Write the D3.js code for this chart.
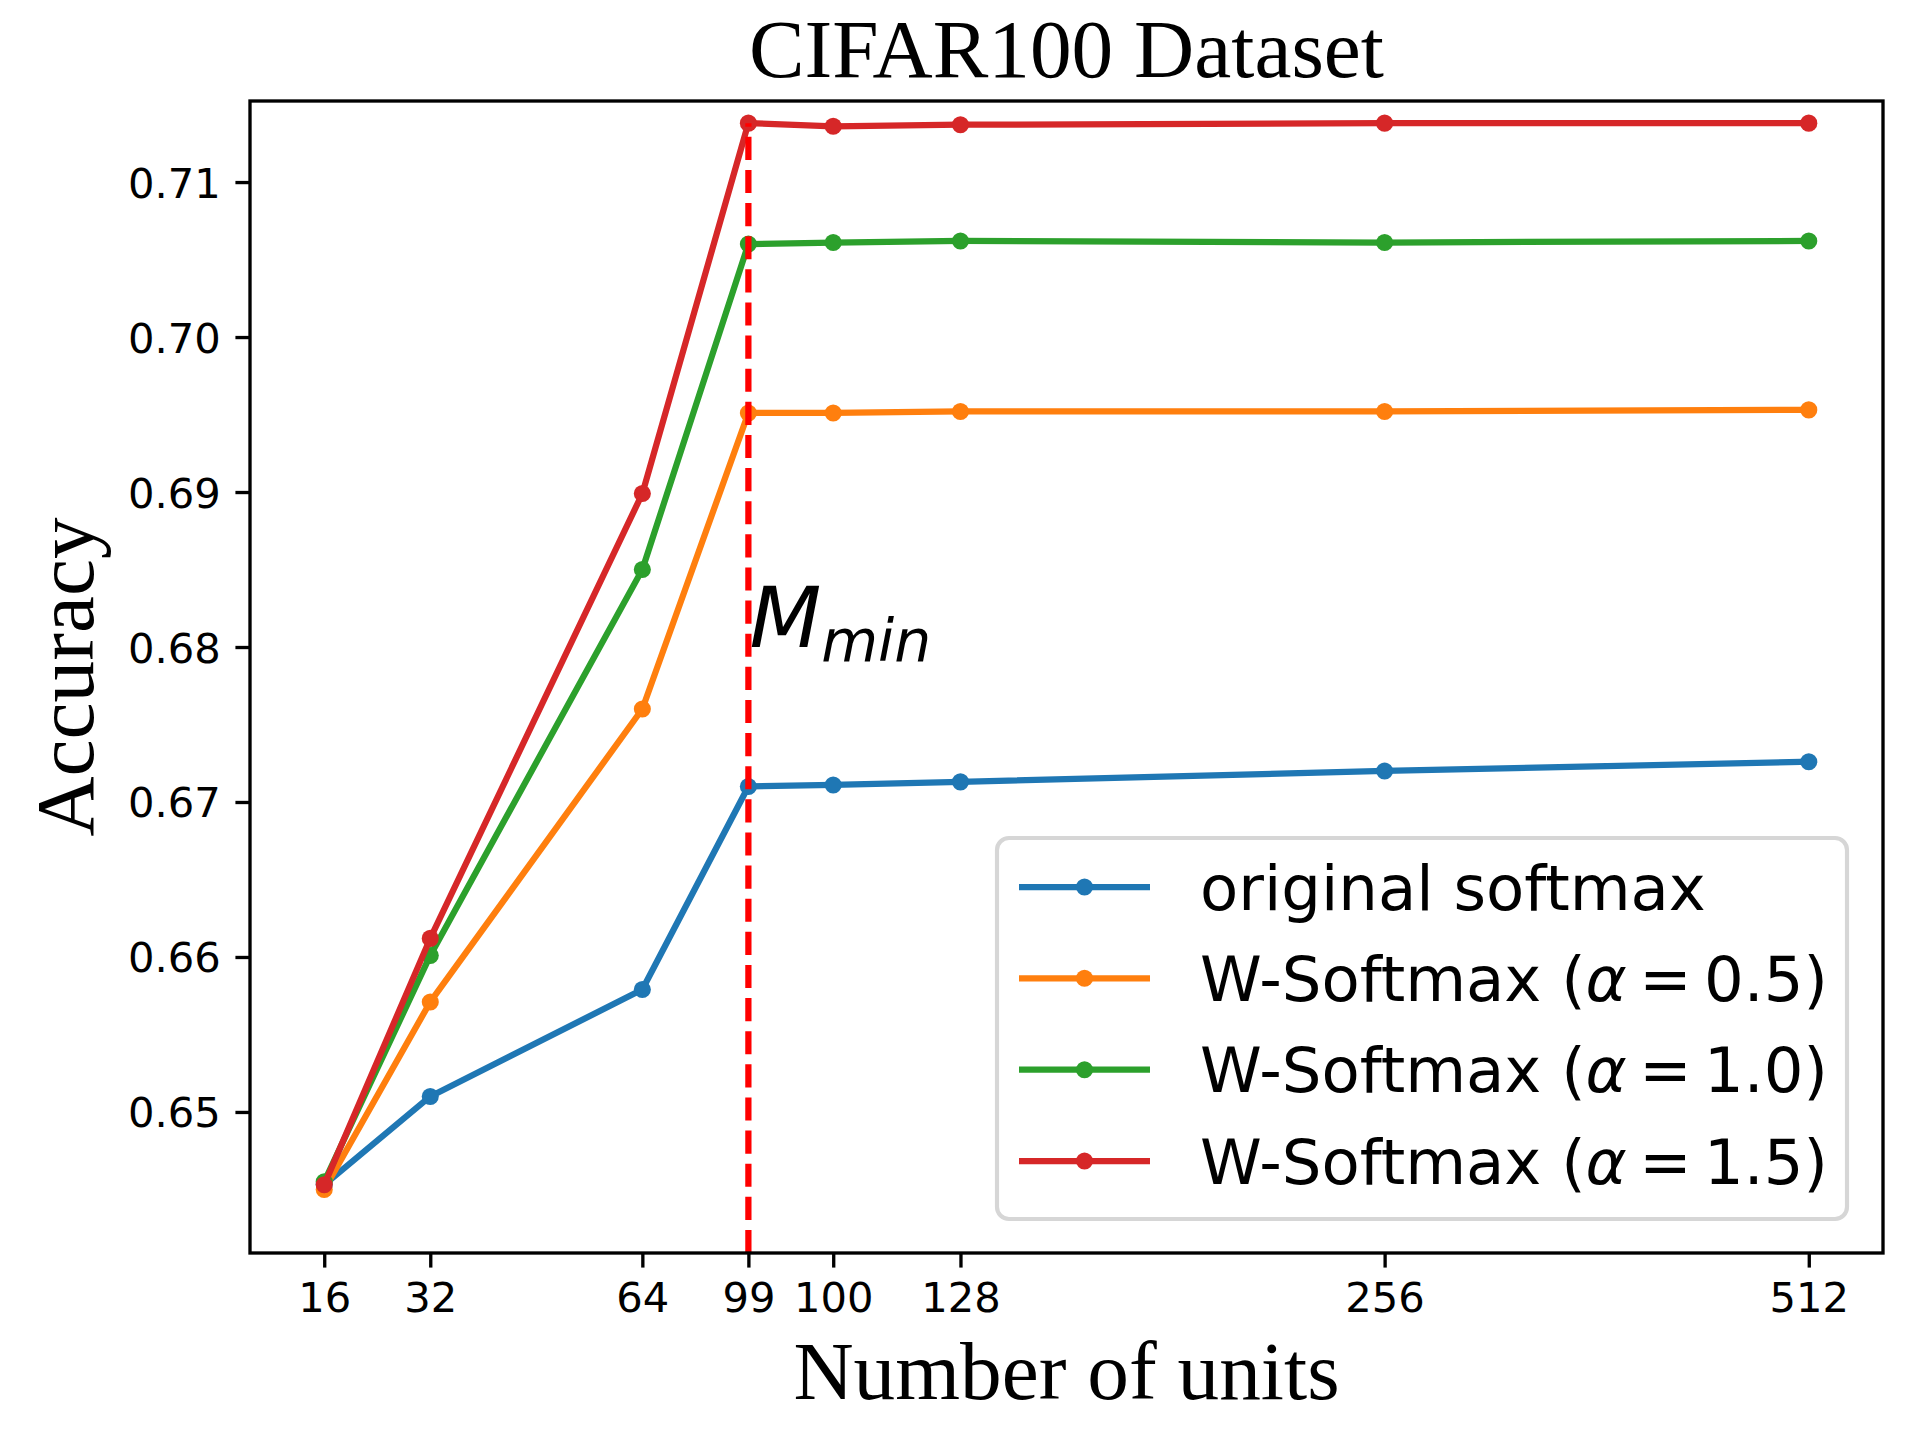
<!DOCTYPE html>
<html>
<head>
<meta charset="utf-8">
<script src="https://cdn.jsdelivr.net/npm/d3@7"></script>
<style>
  body { margin: 0; background: #fff; }
  svg { display: block; }
</style>
</head>
<body>
<div id="graphicContainer"></div>
<script>
// categories on the x axis and where matplotlib put them
var unitLabels = ["16", "32", "64", "99", "100", "128", "256", "512"]
var unitPos = [0, 1, 3, 4, 4.8, 6, 10, 14]

var originalSoftmax = [0.6453, 0.6510, 0.6579, 0.6710, 0.6711, 0.6713, 0.6720, 0.6726]
var wSoftmax05 = [0.6450, 0.6571, 0.6760, 0.6951, 0.6951, 0.6952, 0.6952, 0.6953]
var wSoftmax10 = [0.6455, 0.6601, 0.6850, 0.7060, 0.7061, 0.7062, 0.7061, 0.7062]
var wSoftmax15 = [0.6453, 0.6612, 0.6899, 0.7138, 0.7136, 0.7137, 0.7138, 0.7138]

var yTicks = [0.65, 0.66, 0.67, 0.68, 0.69, 0.70, 0.71]
var mMin = 99
var mMinLabelY = 0.68

var series = [
	{name: "original softmax", alpha: null, values: originalSoftmax, color: "#1f77b4"},
	{name: "W-Softmax", alpha: "0.5", values: wSoftmax05, color: "#ff7f0e"},
	{name: "W-Softmax", alpha: "1.0", values: wSoftmax10, color: "#2ca02c"},
	{name: "W-Softmax", alpha: "1.5", values: wSoftmax15, color: "#d62728"}
]

var width = 1920
var height = 1440
var margin = {top: 101, right: 37, bottom: 187, left: 250}
var pt = 300 / 72

var sans = "'DejaVu Sans', sans-serif"
var serif = "'Liberation Serif', 'Times New Roman', serif"

var svg = d3.select("#graphicContainer").append("svg")
	.attr("width", width)
	.attr("height", height)

var x = d3.scaleLinear()
	.domain([-0.7, 14.7])
	.range([margin.left, width - margin.right])

var y = d3.scaleLinear()
	.domain([0.6409, 0.71523])
	.range([height - margin.bottom, margin.top])

var xAxis = d3.axisBottom(x)
	.tickValues(unitPos)
	.tickFormat((d, i) => unitLabels[i])
	.tickSizeInner(3.5 * pt)
	.tickSizeOuter(0)
	.tickPadding(3.5 * pt)

var yAxis = d3.axisLeft(y)
	.tickValues(yTicks)
	.tickFormat(d3.format(".2f"))
	.tickSizeInner(3.5 * pt)
	.tickSizeOuter(0)
	.tickPadding(3.5 * pt)

var gx = svg.append("g")
	.attr("transform", `translate(0,${height - margin.bottom})`)
	.call(xAxis)

var gy = svg.append("g")
	.attr("transform", `translate(${margin.left},0)`)
	.call(yAxis)

;[gx, gy].forEach(g => {
	g.select(".domain").remove()
	g.selectAll(".tick line").attr("stroke", "#000").attr("stroke-width", 0.8 * pt)
	g.selectAll(".tick text")
		.attr("font-family", sans)
		.attr("font-size", 10 * pt)
		.attr("fill", "#000")
})
gx.selectAll(".tick text").attr("dy", "0.71em")
gy.selectAll(".tick text").attr("dy", "0.36em")

var line = d3.line()
	.x((d, i) => x(unitPos[i]))
	.y(d => y(d))

var plot = svg.append("g")

series.forEach(s => {
	plot.append("path")
		.datum(s.values)
		.attr("fill", "none")
		.attr("stroke", s.color)
		.attr("stroke-width", 1.5 * pt)
		.attr("stroke-linejoin", "round")
		.attr("stroke-linecap", "square")
		.attr("d", line)

	plot.selectAll(null)
		.data(s.values)
		.join("circle")
		.attr("cx", (d, i) => x(unitPos[i]))
		.attr("cy", d => y(d))
		.attr("r", 2.05 * pt)
		.attr("fill", s.color)
})

// M_min marker
var mIdx = unitLabels.indexOf(String(mMin))
plot.append("line")
	.attr("x1", x(unitPos[mIdx]))
	.attr("x2", x(unitPos[mIdx]))
	.attr("y1", y(y.domain()[0]))
	.attr("y2", y(wSoftmax15[mIdx]))
	.attr("stroke", "#ff0000")
	.attr("stroke-width", 1.5 * pt)
	.attr("stroke-dasharray", `${3.7 * 1.5 * pt},${1.6 * 1.5 * pt}`)

var mText = svg.append("text")
	.attr("x", x(unitPos[mIdx]) + 1)
	.attr("y", y(mMinLabelY))
	.attr("font-family", sans)
	.attr("font-style", "italic")
	.attr("font-size", 20 * pt)
	.attr("fill", "#000")
mText.append("tspan").text("M")
mText.append("tspan").attr("font-size", 14 * pt).attr("dy", 14).text("min")

// frame
svg.append("rect")
	.attr("x", margin.left)
	.attr("y", margin.top)
	.attr("width", width - margin.left - margin.right)
	.attr("height", height - margin.top - margin.bottom)
	.attr("fill", "none")
	.attr("stroke", "#000")
	.attr("stroke-width", 0.8 * pt)

// legend
var fs = 15 * pt
var legend = svg.append("g")
legend.append("rect")
	.attr("x", 997)
	.attr("y", 838)
	.attr("width", 850)
	.attr("height", 381)
	.attr("rx", 12)
	.attr("fill", "#fff")
	.attr("fill-opacity", 0.8)
	.attr("stroke", "#d6d6d6")
	.attr("stroke-width", 1 * pt)

var rowY = d3.scaleLinear().domain([0, 3]).range([887, 1161])

series.forEach((s, i) => {
	var ry = rowY(i)
	legend.append("line")
		.attr("x1", 1019).attr("x2", 1150)
		.attr("y1", ry).attr("y2", ry)
		.attr("stroke", s.color)
		.attr("stroke-width", 1.5 * pt)
	legend.append("circle")
		.attr("cx", 1084.5).attr("cy", ry)
		.attr("r", 2.05 * pt)
		.attr("fill", s.color)
	var t = legend.append("text")
		.attr("x", 1200)
		.attr("y", ry + 0.36 * fs)
		.attr("font-family", sans)
		.attr("font-size", fs)
		.attr("fill", "#000")
	if (s.alpha == null) {
		t.text(s.name)
	} else {
		t.append("tspan").text(s.name + " (")
		t.append("tspan").attr("font-style", "italic").text("α")
		t.append("tspan").text("\u2009=\u2009" + s.alpha + ")")
	}
})

// titles
svg.append("text")
	.attr("x", (margin.left + width - margin.right) / 2)
	.attr("y", 77)
	.attr("text-anchor", "middle")
	.attr("font-family", serif)
	.attr("font-size", 20 * pt)
	.text("CIFAR100 Dataset")

svg.append("text")
	.attr("x", (margin.left + width - margin.right) / 2)
	.attr("y", 1399)
	.attr("text-anchor", "middle")
	.attr("font-family", serif)
	.attr("font-size", 20 * pt)
	.text("Number of units")

svg.append("text")
	.attr("transform", `translate(93,${(margin.top + height - margin.bottom) / 2}) rotate(-90)`)
	.attr("text-anchor", "middle")
	.attr("font-family", serif)
	.attr("font-size", 20 * pt)
	.text("Accuracy")
</script>
</body>
</html>
